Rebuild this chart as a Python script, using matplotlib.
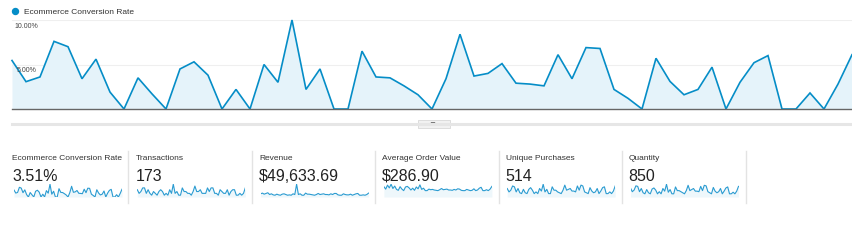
import matplotlib.pyplot as plt
from matplotlib.lines import Line2D
from matplotlib.patches import Rectangle, Polygon

plt.rcParams['font.family'] = ['Liberation Sans', 'DejaVu Sans']

# main series: daily ecommerce conversion rate (%)
conv_rate = [5.45, 3.07, 3.6, 7.6, 7.0, 3.4, 5.6, 1.9, 0, 3.5, 1.7, 0, 4.5, 5.3, 3.8, 0,
             2.2, 0, 5.0, 3.0, 10.0, 2.2, 4.5, 0, 0, 6.5, 3.6, 3.5, 2.6, 1.6, 0, 3.4,
             8.4, 3.7, 4.0, 5.1, 2.9, 2.8, 2.6, 6.1, 3.4, 6.9, 6.8, 2.2, 1.2, 0, 5.7,
             3.1, 1.6, 2.2, 4.7, 0, 3.0, 5.2, 6.0, 0, 0, 1.8, 0, 2.8, 6.1]

# sparkline series (rough daily values)
transactions = [4, 2, 3, 5, 5, 2, 4, 2, 1, 3, 2, 1, 3, 4, 3, 1, 2, 1, 4, 2, 7, 2, 3, 1, 1,
                5, 3, 3, 2, 2, 1, 3, 6, 3, 3, 4, 2, 2, 2, 5, 3, 5, 5, 2, 2, 1, 4, 3, 2,
                2, 4, 1, 3, 4, 4, 1, 1, 2, 1, 2, 5]
revenue = [900, 1100, 800, 1000, 1200, 700, 900, 600, 500, 800, 600, 500, 800, 900, 700,
           500, 600, 500, 900, 700, 3600, 700, 900, 500, 500, 1100, 800, 800, 700, 600,
           500, 700, 1000, 700, 800, 900, 700, 700, 600, 900, 700, 1000, 1000, 600, 500,
           500, 900, 700, 600, 600, 800, 500, 700, 900, 1000, 500, 500, 600, 500, 700, 1100]
avg_order = [340, 260, 390, 300, 420, 280, 360, 250, 220, 340, 260, 210, 330, 350, 300,
             230, 290, 220, 330, 270, 400, 250, 290, 210, 210, 260, 240, 250, 230, 220,
             210, 240, 280, 240, 250, 260, 230, 230, 220, 250, 230, 270, 260, 220, 210,
             210, 250, 230, 210, 220, 270, 210, 230, 290, 320, 210, 210, 240, 210, 260, 350]
unique_purch = [10, 6, 8, 13, 12, 6, 10, 5, 4, 9, 5, 4, 9, 11, 8, 4, 6, 4, 10, 7, 15, 6, 9,
                4, 4, 12, 8, 8, 6, 5, 4, 8, 14, 8, 9, 10, 7, 7, 6, 13, 8, 14, 13, 6, 5, 4,
                11, 7, 5, 6, 10, 4, 7, 11, 12, 4, 4, 6, 4, 7, 13]
quantity = [17, 10, 13, 21, 20, 10, 16, 8, 6, 14, 8, 6, 15, 17, 13, 6, 10, 6, 16, 11, 24,
            9, 14, 6, 6, 19, 12, 12, 10, 8, 6, 12, 22, 12, 14, 16, 11, 11, 10, 20, 12, 22,
            21, 10, 8, 6, 18, 11, 8, 10, 16, 6, 11, 17, 19, 6, 6, 9, 6, 11, 20]

card_titles = ['Ecommerce Conversion Rate', 'Transactions', 'Revenue',
               'Average Order Value', 'Unique Purchases', 'Quantity']
card_values = ['3.51%', '173', '$49,633.69', '$286.90', '514', '850']
card_series = [conv_rate, transactions, revenue, avg_order, unique_purch, quantity]

BLUE = '#058dc7'
W, H = 852, 251

fig = plt.figure(figsize=(W / 100, H / 100), dpi=100)
fig.patch.set_facecolor('white')


def fx(px):
    return px / W


def fy(py):
    return 1 - py / H


# legend
fig.add_artist(Line2D([fx(15)], [fy(12)], marker='o', markersize=4.3, color=BLUE, lw=0))
fig.text(fx(23.5), fy(12), 'Ecommerce Conversion Rate', color='#333333', fontsize=6.0,
         ha='left', va='center')

# main chart
ax = fig.add_axes([fx(12), fy(110), fx(852) - fx(12), fy(21) - fy(110)])
x = list(range(len(conv_rate)))
ax.fill_between(x, conv_rate, 0, color='#e5f3fa', lw=0, clip_on=False)
ax.plot(x, conv_rate, color=BLUE, lw=1.2, clip_on=False, solid_joinstyle='miter')
for v in (5, 10):
    ax.axhline(v, color='#efefef', lw=0.8, zorder=0)
ax.set_xlim(0, len(conv_rate) - 1)
ax.set_ylim(0, 10)
for s in ('top', 'left', 'right'):
    ax.spines[s].set_visible(False)
ax.spines['bottom'].set_color('#666666')
ax.spines['bottom'].set_linewidth(1.0)
ax.set_xticks([])
ax.set_yticks([])
ax.patch.set_alpha(0)

fig.text(fx(14), fy(27), '10.00%', color='#444444', fontsize=5, ha='left', va='center')
fig.text(fx(17), fy(71), '5.00%', color='#444444', fontsize=5, ha='left', va='center')

# collapse bar with button
fig.add_artist(Line2D([fx(12), fx(852)], [fy(124.5), fy(124.5)], color='#e6e6e6', lw=2.2))
fig.add_artist(Rectangle((fx(418), fy(129)), fx(32), fy(121) - fy(129),
                         facecolor='#f2f2f2', edgecolor='#d8d8d8', lw=0.6))
fig.add_artist(Polygon([[fx(431), fy(124)], [fx(435), fy(124)], [fx(433), fy(126.5)]],
                       closed=True, color='#444444'))

# scorecards
for i in range(len(card_titles)):
    left = 12.5 + i * 123.3
    fig.text(fx(left), fy(159), card_titles[i], color='#333333', fontsize=6.0,
             ha='left', va='center')
    fig.text(fx(left - 0.5), fy(176.5), card_values[i], color='#222222', fontsize=11.5,
             ha='left', va='center')
    sp = fig.add_axes([fx(left + 1.5), fy(198), fx(108), fy(185) - fy(198)])
    s = card_series[i]
    sp.fill_between(range(len(s)), s, 0, color='#eef7fb', lw=0)
    sp.plot(range(len(s)), s, color='#2a9bd1', lw=0.8)
    sp.set_xlim(0, len(s) - 1)
    sp.set_ylim(0, max(s) * 1.02)
    sp.axis('off')
    sep = 128 + i * 123.6
    fig.add_artist(Line2D([fx(sep), fx(sep)], [fy(152), fy(204)], color='#e3e3e3', lw=1))

fig.savefig('out.png', dpi=100)
